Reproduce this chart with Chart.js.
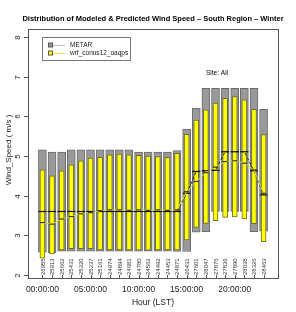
<!DOCTYPE html>
<html>
<head>
<meta charset="utf-8">
<script src="https://cdn.jsdelivr.net/npm/chart.js@4.4.1/dist/chart.umd.min.js"></script>
<style>
  body { margin: 0; background: #fff; }
  #wrap { width: 296px; height: 312px; }
</style>
</head>
<body>
<div id="wrap"><canvas id="windChart" width="296" height="312"></canvas></div>
<script>
// hours of the day (LST) and the site id printed under each box
const hours = [0,1,2,3,4,5,6,7,8,9,10,11,12,13,14,15,16,17,18,19,20,21,22,23];
const stations = ['26955','25913','25662','25431','25320','25237','25161','24974','24894','24681','24780','24562',
                  '24492','24453','24871','26431','27601','28047','27876','27836','27890','28038','28326','28463'];

// METAR (observed) quartiles + median
const metarQ1  = [2.57,2.56,2.60,2.60,2.60,2.60,2.60,2.60,2.60,2.60,2.60,2.60,2.60,2.60,2.59,2.59,3.08,3.09,3.60,3.60,3.60,3.60,3.09,3.10];
const metarQ3  = [5.16,5.10,5.10,5.16,5.16,5.16,5.16,5.16,5.16,5.16,5.10,5.10,5.10,5.10,5.14,5.68,6.21,6.71,6.71,6.71,6.71,6.71,6.71,6.18];
const metarMed = [3.60,3.60,3.60,3.60,3.60,3.60,3.60,3.60,3.60,3.60,3.60,3.60,3.60,3.60,3.60,4.06,4.61,4.63,4.64,5.11,5.11,5.11,4.63,4.02];

// wrf_conus12_oaqps (model) quartiles + median
const wrfQ1  = [2.42,2.53,2.63,2.66,2.66,2.66,2.63,2.63,2.63,2.63,2.62,2.62,2.63,2.63,2.63,2.88,3.20,3.30,3.37,3.45,3.46,3.41,3.29,2.84];
const wrfQ3  = [4.65,4.50,4.63,4.78,4.88,4.95,4.97,5.03,5.05,5.03,5.02,5.00,4.99,4.97,5.07,5.55,5.91,6.17,6.34,6.46,6.50,6.42,6.18,5.54];
const wrfMed = [3.32,3.28,3.41,3.47,3.54,3.57,3.62,3.64,3.64,3.63,3.64,3.63,3.64,3.63,3.64,4.10,4.36,4.58,4.72,4.86,4.88,4.82,4.65,4.06];

// axis labels
const yTicks = [2,3,4,5,6,7,8];
const hourTicks = [0,5,10,15,20];
const hourLabels = ['00:00:00','05:00:00','10:00:00','15:00:00','20:00:00'];

const FONT = '"Liberation Sans", Arial, sans-serif';

// R-style frame, axes, texts and legend drawn on top of the chart
const rDecor = {
    id: 'rDecor',
    afterDraw(chart) {
        const c = chart.ctx;
        const a = chart.chartArea;
        const xs = chart.scales.x, ys = chart.scales.y;
        c.save();

        // plot box
        c.strokeStyle = '#555';
        c.lineWidth = 1;
        c.strokeRect(a.left + 0.5, a.top + 0.5, a.right - a.left, a.bottom - a.top);

        // y ticks + rotated labels
        c.fillStyle = '#222';
        c.font = '8px ' + FONT;
        yTicks.forEach(v => {
            const py = Math.round(ys.getPixelForValue(v)) + 0.5;
            c.beginPath();
            c.moveTo(a.left - 4, py);
            c.lineTo(a.left, py);
            c.stroke();
            c.save();
            c.translate(a.left - 6, py);
            c.rotate(-Math.PI / 2);
            c.textAlign = 'center';
            c.textBaseline = 'bottom';
            c.fillText(String(v), 0, 0);
            c.restore();
        });

        // y title
        c.save();
        c.translate(9, 150);
        c.rotate(-Math.PI / 2);
        c.textAlign = 'center';
        c.textBaseline = 'middle';
        c.font = '8px ' + FONT;
        c.fillText('Wind_Speed ( m/s )', 0, 0);
        c.restore();

        // station ids along the bottom, inside the box
        c.font = '6px ' + FONT;
        c.fillStyle = '#333';
        hours.forEach((h, i) => {
            const px = xs.getPixelForValue(h);
            c.beginPath();
            c.moveTo(Math.round(px) + 0.5, a.bottom);
            c.lineTo(Math.round(px) + 0.5, a.bottom - 3);
            c.stroke();
            c.save();
            c.translate(px, a.bottom - 3);
            c.rotate(-Math.PI / 2);
            c.textAlign = 'left';
            c.textBaseline = 'middle';
            c.fillText(stations[i], 0, 0.5);
            c.restore();
        });

        // hour labels + x title
        c.fillStyle = '#222';
        c.font = '8.5px ' + FONT;
        c.textAlign = 'center';
        c.textBaseline = 'middle';
        hourTicks.forEach((h, i) => {
            c.fillText(hourLabels[i], xs.getPixelForValue(h), 290);
        });
        c.fillText('Hour (LST)', 153, 303);

        // main title
        c.font = 'bold 7.5px ' + FONT;
        c.fillStyle = '#000';
        c.fillText('Distribution of Modeled & Predicted Wind Speed \u2013 South Region \u2013 Winter', 153, 19);

        // site label
        c.font = '6.5px ' + FONT;
        c.textAlign = 'left';
        c.fillText('Site: All', 206, 73);

        // legend
        c.strokeStyle = '#777';
        c.strokeRect(42.5, 37.5, 88, 23);
        const items = [
            { label: 'METAR', fill: '#999999', line: '#bbbbbb', y: 45 },
            { label: 'wrf_conus12_oaqps', fill: '#ffff00', line: '#e8e84a', y: 53 }
        ];
        items.forEach(it => {
            c.strokeStyle = it.line;
            c.beginPath();
            c.moveTo(53, it.y + 0.5);
            c.lineTo(65, it.y + 0.5);
            c.stroke();
            c.fillStyle = it.fill;
            c.fillRect(48.5, it.y - 2, 4, 4);
            c.strokeStyle = '#555';
            c.strokeRect(48.5, it.y - 2, 4, 4);
            c.fillStyle = '#222';
            c.fillText(it.label, 70, it.y + 0.5);
        });

        c.restore();
    }
};

const ctx = document.getElementById('windChart').getContext('2d');

const windChart = new Chart(ctx, {
    type: 'bar',
    data: {
        datasets: [
            {
                label: 'METAR',
                data: hours.map((h, i) => ({ x: h, y: [metarQ1[i], metarQ3[i]] })),
                backgroundColor: '#999999',
                borderColor: '#6a6a6a',
                borderWidth: 1,
                borderSkipped: false,
                barThickness: 8,
                grouped: false,
                order: 3
            },
            {
                label: 'wrf_conus12_oaqps',
                data: hours.map((h, i) => ({ x: h, y: [wrfQ1[i], wrfQ3[i]] })),
                backgroundColor: '#ffff00',
                borderColor: '#6b6b3a',
                borderWidth: 1,
                borderSkipped: false,
                barThickness: 5,
                grouped: false,
                order: 2
            },
            {
                type: 'line',
                label: 'METAR median',
                data: hours.map((h, i) => ({ x: h, y: metarMed[i] })),
                borderColor: '#222',
                borderWidth: 1,
                borderDash: [3, 2],
                pointStyle: 'line',
                pointRadius: 4,
                pointBorderColor: '#111',
                pointBorderWidth: 1.2,
                tension: 0,
                order: 1
            },
            {
                type: 'line',
                label: 'wrf median',
                data: hours.map((h, i) => ({ x: h, y: wrfMed[i] })),
                borderColor: '#d6d63a',
                borderWidth: 1,
                pointStyle: 'line',
                pointRadius: 2.5,
                pointBorderColor: '#222',
                pointBorderWidth: 1,
                tension: 0,
                order: 0
            }
        ]
    },
    options: {
        responsive: false,
        animation: false,
        layout: { padding: { left: 28, right: 18, top: 29, bottom: 34 } },
        scales: {
            x: { type: 'linear', min: -1.5, max: 24.5, offset: false, display: false },
            y: { min: 1.92, max: 8.21, display: false }
        },
        plugins: {
            legend: { display: false },
            tooltip: { enabled: false }
        }
    },
    plugins: [rDecor]
});
</script>
</body>
</html>
